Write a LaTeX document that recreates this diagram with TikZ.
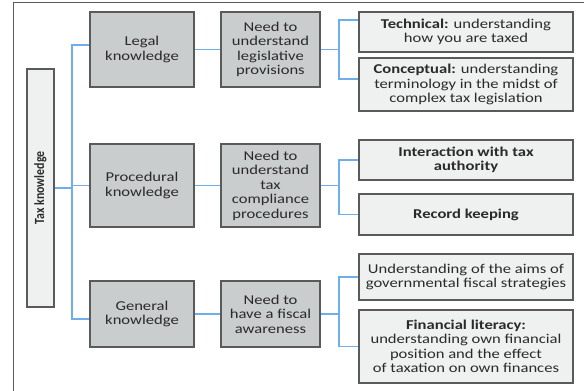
\documentclass[tikz,border=0pt]{standalone}
\usepackage{fontspec}
\setmainfont{Carlito}[FakeStretch=1.23]
\newfontfamily\narrowfont{Carlito}[FakeStretch=0.85]
\usepackage{tikz}
\definecolor{boxline}{HTML}{5A5A5A}
\definecolor{darkfill}{HTML}{C9CDCD}
\definecolor{lightfill}{HTML}{EFF0F0}
\definecolor{linkblue}{HTML}{6FAEEA}
\definecolor{txt}{HTML}{2A2A2A}

\begin{document}
\begin{tikzpicture}[x=1pt,y=-1pt,
  box/.style={draw=boxline,line width=1.2pt,align=center,text=txt,inner sep=2pt,
    font=\fontsize{13.5}{14.5}\selectfont},
  grey/.style={box,fill=darkfill,minimum width=104pt},
  need/.style={box,fill=darkfill,minimum width=99pt},
  pale/.style={box,fill=lightfill,minimum width=214pt},
  link/.style={draw=linkblue,line width=1.2pt}]
\useasboundingbox (0,0) rectangle (584,391);
\draw[boxline,line width=0.8pt] (13,391) -- (13,2) -- (584,2);

\node[box,fill=lightfill,minimum width=27pt,minimum height=238pt] (tax) at (40.5,188)
  {\rotatebox{90}{\narrowfont\fontsize{14}{14}\selectfont\bfseries Tax knowledge}};

\node[grey,minimum height=75pt] (legal) at (142,49.5) {Legal\\knowledge};
\node[need,minimum height=75pt] (need1) at (270.5,49.5) {Need to\\understand\\legislative\\provisions};
\node[grey,minimum height=83pt] (proc) at (142,185.5) {Procedural\\knowledge};
\node[need,minimum height=83pt] (need2) at (270.5,185.5) {Need to\\understand\\tax\\compliance\\procedures};
\node[grey,minimum height=66pt] (gen) at (142,314) {General\\knowledge};
\node[need,minimum height=66pt] (need3) at (270.5,314) {Need to\\have a fiscal\\awareness};

\node[pale,minimum height=40pt] (tech) at (466,32) {\textbf{Technical:} understanding\\how you are taxed};
\node[pale,minimum height=53pt] (concept) at (466,84.5) {\textbf{Conceptual:} understanding\\terminology in the midst of\\complex tax legislation};
\node[pale,minimum height=40pt] (inter) at (466,160) {\textbf{Interaction with tax}\\\textbf{authority}};
\node[pale,minimum height=41pt] (record) at (466,214.5) {\textbf{Record keeping}};
\node[pale,minimum height=46pt] (aims) at (466,277) {Understanding of the aims of\\governmental fiscal strategies};
\node[pale,minimum height=73pt] (finlit) at (466,346.5) {\textbf{Financial literacy:}\\understanding own financial\\position and the effect\\of taxation on own finances};

\coordinate (trunk) at (72,0);
\coordinate (fork) at (339,0);

\draw[link] (tax.east) -- (tax.east -| trunk);
\draw[link] ([yshift=4.5pt]legal.west) -| ([yshift=-5pt]gen.west -| trunk) -- ([yshift=-5pt]gen.west);
\draw[link] (proc.west) -- (proc.west -| trunk);

\draw[link] (legal.east) -- (need1.west);
\draw[link] (proc.east) -- (need2.west);
\draw[link] (gen.east) -- (need3.west);

\draw[link] (need1.east) -- (need1.east -| fork);
\draw[link] ([yshift=12pt]tech.west) -| ([yshift=5.5pt]concept.west -| fork) -- ([yshift=5.5pt]concept.west);
\draw[link] (need2.east) -- (need2.east -| fork);
\draw[link] (inter.west) -| (record.west -| fork) -- (record.west);
\draw[link] (need3.east) -- (need3.east -| fork);
\draw[link] (aims.west) -| (finlit.west -| fork) -- (finlit.west);
\end{tikzpicture}
\end{document}
